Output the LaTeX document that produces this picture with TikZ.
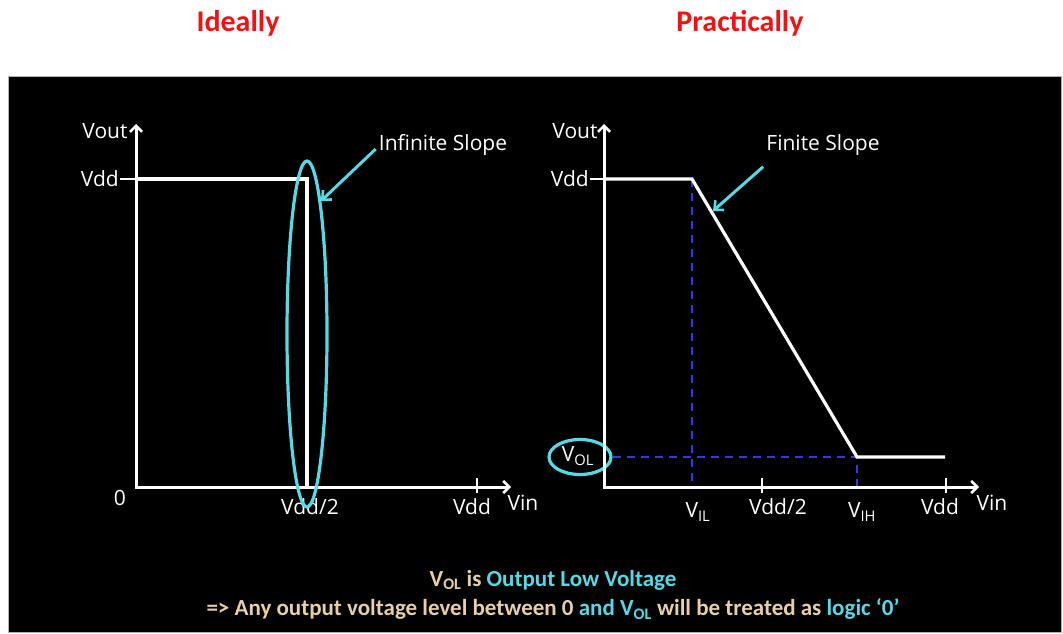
\documentclass[tikz,border=0pt]{standalone}
\usepackage{fontspec}
\setmainfont{Open Sans}
\newfontfamily\calib{Carlito}
\usetikzlibrary{arrows.meta,shapes.geometric}

\definecolor{tan}{RGB}{230,208,166}
\definecolor{cyanline}{RGB}{88,216,228}
\definecolor{dashblue}{RGB}{56,56,224}
\definecolor{titlered}{RGB}{242,18,18}

\tikzset{
  axis/.style={white,line width=3pt,line join=miter,
    {Straight Barb[length=6pt,width=12pt,line width=2.6pt]}-{Straight Barb[length=6pt,width=12pt,line width=2.6pt]}},
  curve/.style={white,line width=3.2pt},
  tick/.style={white,line width=2.8pt},
  lbl/.style={white,font=\fontsize{21}{24}\selectfont,inner sep=1pt},
  guide/.style={dashblue,line width=2.6pt,dash pattern=on 8pt off 6pt},
  hint/.style={cyanline,line width=3pt,-{Straight Barb[length=7pt,width=13pt,line width=2.6pt]}},
  ring/.style={draw=cyanline,line width=3.2pt,ellipse,inner sep=0pt},
  title/.style={titlered,font=\calib\bfseries\fontsize{30}{32}\selectfont},
  note/.style={tan,font=\calib\bfseries\fontsize{23}{26}\selectfont,inner sep=0pt}
}

\begin{document}
\begin{tikzpicture}[x=1pt,y=-1pt]
   \useasboundingbox (0,0) rectangle (1063,634);
   \fill[white] (0,0) rectangle (1063,634);
   \path[fill=black,draw=gray!60,line width=1pt] (8,77) rectangle (1061,632);

   \node[title] (ideal) at (238,23) {Ideally};
   \node[title] (pract) at (740,23) {Practically};

   % ideal curve
   \coordinate (top1) at (136,124);
   \coordinate (org1) at (136,487);
   \coordinate (end1) at (511,487);
   \coordinate (hi1) at (136,179);
   \coordinate (step1) at (307,179);
   \coordinate (foot1) at (307,487);
   \draw[axis] (top1) -- (org1) -- (end1);
   \draw[curve] (hi1) -- (step1) -- (foot1);

   \node[lbl] (vout1) at (105,131) {Vout};
   \node[lbl,anchor=east] (vdd1) at (120,179) {Vdd};
   \draw[tick] (vdd1.east) -- (hi1);
   \node[lbl] (zero1) at (120,498) {0};
   \node[lbl] (half1) at (310,507) {Vdd/2};
   \node[lbl] (vddx1) at (472,507) {Vdd};
   \node[lbl] (vin1) at (523,503) {Vin};
   \draw[tick] (477,478) -- (477,493);

   \node[ring,minimum width=40pt,minimum height=346pt] (ring1) at (307,334) {};
   \node[lbl] (slope1) at (443,145) {Infinite Slope};
   \draw[hint] (slope1.west) ++(-2,4) -- (ring1.84);

   % practical curve
   \coordinate (top2) at (604,124);
   \coordinate (org2) at (604,487);
   \coordinate (end2) at (979,487);
   \coordinate (hi2) at (604,179);
   \coordinate (knee1) at (692,179);
   \coordinate (knee2) at (857,457);
   \coordinate (low2) at (945,457);
   \coordinate (il) at (692,487);
   \coordinate (ih) at (857,487);

   \node[ring,minimum width=62pt,minimum height=35pt] (ring2) at (580,457) {};
   \node[lbl] (vol) at (578,456) {V\textsubscript{OL}};
   \draw[guide] (knee1) -- (il);
   \draw[guide] (ring2.east) -- (knee2) -- (ih);

   \draw[axis] (top2) -- (org2) -- (end2);
   \draw[curve] (hi2) -- (knee1) -- (knee2) -- (low2);

   \node[lbl] (vout2) at (575,131) {Vout};
   \node[lbl,anchor=east] (vdd2) at (590,179) {Vdd};
   \draw[tick] (vdd2.east) -- (hi2);
   \node[lbl] (vil) at (698,512) {V\textsubscript{IL}};
   \node[lbl] (half2) at (778,507) {Vdd/2};
   \node[lbl] (vih) at (862,512) {V\textsubscript{IH}};
   \node[lbl] (vddx2) at (940,507) {Vdd};
   \node[lbl] (vin2) at (992,503) {Vin};
   \draw[tick] (762,478) -- (762,493);
   \draw[tick] (946,478) -- (946,493);

   \node[lbl] (slope2) at (823,145) {Finite Slope};
   \coordinate (tip2) at (713,211);
   \draw[hint] (slope2.south west) ++(-2,10) -- (tip2);

   % notes
   \node[note] (note1) at (553,580)
   {V\textsubscript{OL} is \textcolor{cyanline}{Output Low Voltage}};
   \node[note] (note2) at (553,609)
   {=> Any output voltage level between 0 \textcolor{cyanline}{and V\textsubscript{OL}} will be treated as \textcolor{cyanline}{logic ‘0’}};
 \end{tikzpicture}
\end{document}
